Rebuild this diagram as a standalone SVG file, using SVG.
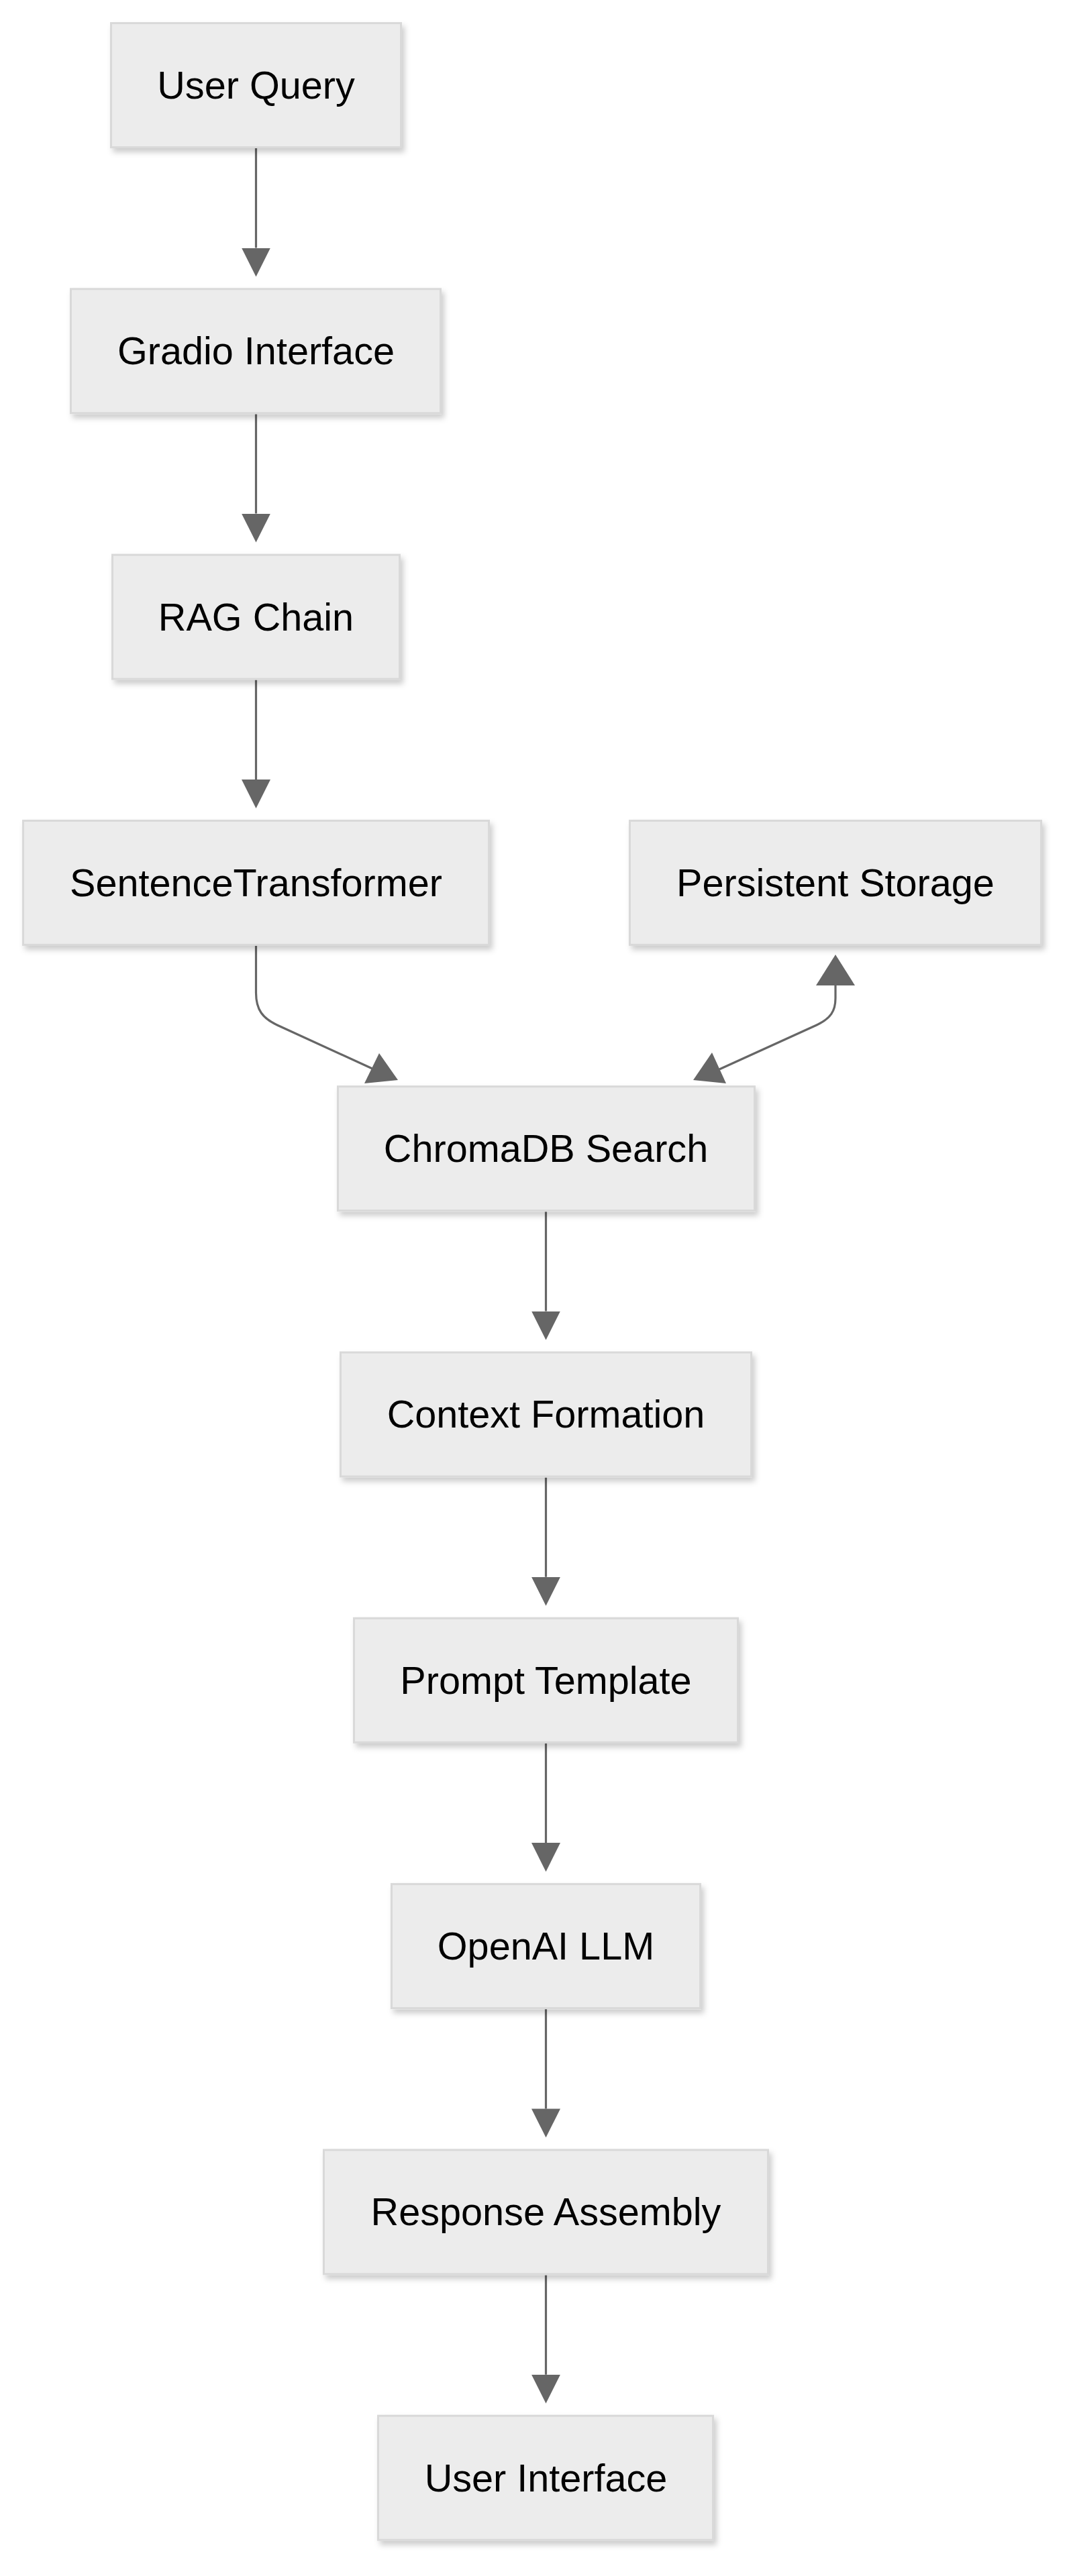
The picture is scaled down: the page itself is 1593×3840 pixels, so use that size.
<svg xmlns="http://www.w3.org/2000/svg" width="1593" height="3840" viewBox="0 0 1593 3840">
<style>
.node rect{fill:#ececec;stroke:#d9d9d9;stroke-width:3;filter:url(#sh)}
.node text{font-family:"Liberation Sans",Arial,sans-serif;font-size:57.6px;fill:#000;text-anchor:middle}
.edge{fill:none;stroke:#666;stroke-width:3.2}
.ah{fill:#666}
</style>
<defs>
<filter id="sh" x="-10%" y="-10%" width="125%" height="130%">
<feDropShadow dx="4" dy="6" stdDeviation="4" flood-color="#000" flood-opacity="0.2"/>
</filter>
<marker id="arr" viewBox="0 0 10 10" refX="0" refY="5" markerUnits="userSpaceOnUse" markerWidth="43" markerHeight="53" orient="auto">
<path d="M0,0 L10,5 L0,10 z" fill="#666"/>
</marker>
</defs>
<rect width="1593" height="3840" fill="#fff"/>
<g id="connectors">
<path class="edge" d="M381.5,221 L381.5,369.5" marker-end="url(#arr)"/>
<path class="edge" d="M381.5,617.3 L381.5,765.6" marker-end="url(#arr)"/>
<path class="edge" d="M381.5,1013.6 L381.5,1162" marker-end="url(#arr)"/>
<path class="edge" d="M381.5,1410 L381.5,1480 C381.5,1506 392,1518 413,1528 L557,1594"/>
<polygon class="ah" points="565,1570 543,1615 593,1610"/>
<path class="edge" d="M1245,1469 L1245,1488 C1245,1507 1238,1518 1217,1528 L1072,1594"/>
<polygon class="ah" points="1245,1423 1216,1469 1274,1469"/>
<polygon class="ah" points="1061,1569 1033,1610 1082,1615"/>
<path class="edge" d="M813.5,1806.2 L813.5,1954.5" marker-end="url(#arr)"/>
<path class="edge" d="M813.5,2202.5 L813.5,2350.8" marker-end="url(#arr)"/>
<path class="edge" d="M813.5,2598.8 L813.5,2747.1" marker-end="url(#arr)"/>
<path class="edge" d="M813.5,2995.1 L813.5,3143.4" marker-end="url(#arr)"/>
<path class="edge" d="M813.5,3391.4 L813.5,3539.7" marker-end="url(#arr)"/>
</g>
<g id="node-user-query" class="node"><rect x="165.5" y="34.5" width="432" height="185"/><text x="381.5" y="146.5">User Query</text></g>
<g id="node-gradio" class="node"><rect x="105.5" y="430.8" width="551" height="185"/><text x="381.5" y="543">Gradio Interface</text></g>
<g id="node-rag" class="node"><rect x="167.5" y="827.1" width="428" height="185"/><text x="381.5" y="939.5">RAG Chain</text></g>
<g id="node-sentence" class="node"><rect x="34.5" y="1223.4" width="694" height="185"/><text x="381.5" y="1335.8">SentenceTransformer</text></g>
<g id="node-storage" class="node"><rect x="938.5" y="1223.4" width="613" height="185"/><text x="1245" y="1335.8">Persistent Storage</text></g>
<g id="node-chroma" class="node"><rect x="503.5" y="1619.7" width="621" height="185"/><text x="813.5" y="1732">ChromaDB Search</text></g>
<g id="node-context" class="node"><rect x="507.5" y="2016" width="612" height="185"/><text x="813.5" y="2128.4">Context Formation</text></g>
<g id="node-prompt" class="node"><rect x="527.5" y="2412.3" width="572" height="185"/><text x="813.5" y="2524.7">Prompt Template</text></g>
<g id="node-openai" class="node"><rect x="583.5" y="2808.6" width="460" height="185"/><text x="813.5" y="2921">OpenAI LLM</text></g>
<g id="node-response" class="node"><rect x="482.5" y="3204.9" width="662" height="185"/><text x="813.5" y="3317.3">Response Assembly</text></g>
<g id="node-ui" class="node"><rect x="563.5" y="3601.2" width="499" height="185"/><text x="813.5" y="3713.6">User Interface</text></g>
</svg>
